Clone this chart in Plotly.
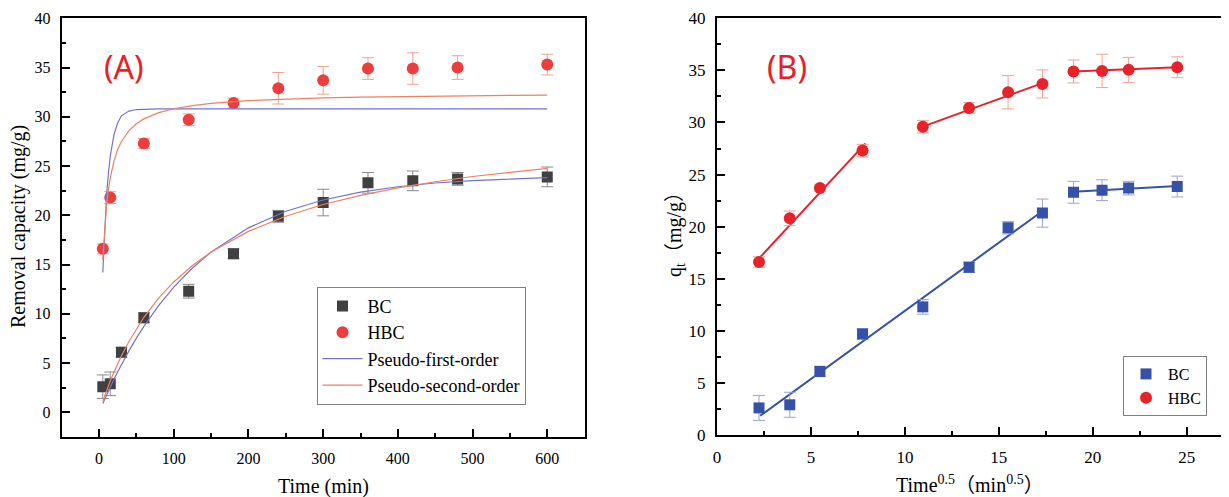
import plotly.graph_objects as go

# ---------------- data ----------------
# Panel A: kinetics (time in min)
t_bc = [5, 15, 30, 60, 120, 180, 240, 300, 360, 420, 480, 600]
q_bc = [2.6, 2.9, 6.1, 9.6, 12.3, 16.1, 19.9, 21.3, 23.3, 23.5, 23.7, 23.9]
e_bc = [1.2, 1.2, 0.5, 0.5, 0.7, 0.5, 0.6, 1.35, 1.05, 1.0, 0.65, 1.0]

t_hbc = [5, 15, 60, 120, 180, 240, 300, 360, 420, 480, 600]
q_hbc = [16.6, 21.8, 27.3, 29.7, 31.4, 32.9, 33.7, 34.9, 34.9, 35.0, 35.3]
e_hbc = [0.5, 0.6, 0.5, 0.6, 0.5, 1.6, 1.4, 1.1, 1.6, 1.2, 1.05]

# fitted curves
t_fit = [5, 7.5, 10, 12.5, 15, 20, 25, 30, 40, 50, 60, 80, 100, 125, 150,
         200, 250, 300, 350, 400, 450, 500, 550, 600]
bc_pfo = [0.89, 1.32, 1.74, 2.16, 2.57, 3.36, 4.12, 4.86, 6.24, 7.54, 8.73,
          10.87, 12.72, 14.65, 16.27, 18.73, 20.41, 21.56, 22.36, 22.90,
          23.28, 23.53, 23.71, 23.83]
bc_pso = [1.14, 1.68, 2.20, 2.70, 3.18, 4.09, 4.95, 5.75, 7.20, 8.50, 9.65,
          11.62, 13.24, 14.90, 16.27, 18.37, 19.91, 21.10, 22.03, 22.79,
          23.41, 23.94, 24.39, 24.77]
hbc_pfo = [14.2, 18.6, 21.9, 24.3, 26.0, 28.2, 29.4, 30.1, 30.58, 30.74,
           30.78, 30.8, 30.8, 30.8, 30.8, 30.8, 30.8, 30.8, 30.8, 30.8,
           30.8, 30.8, 30.8, 30.8]
hbc_pso = [15.5, 18.8, 21.0, 22.6, 23.8, 25.5, 26.7, 27.5, 28.6, 29.3, 29.79,
           30.42, 30.82, 31.14, 31.36, 31.64, 31.80, 31.92, 32.0, 32.06, 32.11,
           32.15, 32.18, 32.21]

# Panel B: intraparticle diffusion (time^0.5)
s_all = [2.236, 3.873, 5.477, 7.746, 10.954, 13.416, 15.492, 17.321,
         18.974, 20.494, 21.909, 24.495]
qb_bc = [2.6, 2.9, 6.1, 9.7, 12.3, 16.1, 19.9, 21.3, 23.3, 23.5, 23.7, 23.85]
eb_bc = [1.2, 1.2, 0.5, 0.5, 0.7, 0.5, 0.6, 1.35, 1.05, 1.0, 0.65, 1.0]
qb_hbc = [16.6, 20.8, 23.7, 27.3, 29.6, 31.4, 32.9, 33.7, 34.9, 34.95, 35.05, 35.3]
eb_hbc = [0.5, 0.7, 0.3, 0.6, 0.6, 0.5, 1.6, 1.35, 1.1, 1.6, 1.2, 1.0]

# linear segments (endpoints)
seg_hbc_x = [[2.24, 7.9], [10.95, 17.35], [18.97, 24.5]]
seg_hbc_y = [[16.95, 28.0], [29.6, 33.8], [34.9, 35.3]]
seg_bc_x = [[2.3, 17.4], [18.97, 24.5]]
seg_bc_y = [[1.85, 21.6], [23.35, 23.9]]

# ---------------- styling ----------------
OFF = 8                      # page body margin in the browser
W, H = 1229 - OFF, 497 - OFF


def fx(p):
    return (p - OFF) / W


def fy(p):
    return 1 - (p - OFF) / H


SERIF = "Liberation Serif, Times New Roman, serif"
SANS = "Noto Sans, sans-serif"
MIXED = SERIF + ", Noto Sans CJK SC"

C_BC_A = "#404040"
C_HBC_A = "#ee3d3d"
C_PFO = "#7373cf"
C_PSO = "#f08060"
C_BC_B = "#3651a8"
C_HBC_B = "#e8222a"

fig = go.Figure()

# ---- Panel A ----
fig.add_trace(go.Scatter(
    x=t_bc, y=q_bc, mode="markers", name="BC",
    marker=dict(symbol="square", size=11, color=C_BC_A),
    error_y=dict(type="data", array=e_bc, color="#8a8a8a", thickness=1, width=6),
    xaxis="x", yaxis="y", legend="legend"))
fig.add_trace(go.Scatter(
    x=t_hbc, y=q_hbc, mode="markers", name="HBC",
    marker=dict(symbol="circle", size=12, color=C_HBC_A),
    error_y=dict(type="data", array=e_hbc, color="#f2a290", thickness=1, width=6),
    xaxis="x", yaxis="y", legend="legend"))
fig.add_trace(go.Scatter(
    x=t_fit, y=bc_pfo, mode="lines", name="Pseudo-first-order",
    line=dict(color=C_PFO, width=1.2), legendgroup="pfo", showlegend=True,
    xaxis="x", yaxis="y", legend="legend"))
fig.add_trace(go.Scatter(
    x=t_fit, y=bc_pso, mode="lines", name="Pseudo-second-order",
    line=dict(color=C_PSO, width=1.2), legendgroup="pso", showlegend=True,
    xaxis="x", yaxis="y", legend="legend"))
fig.add_trace(go.Scatter(
    x=t_fit, y=hbc_pfo, mode="lines", name="Pseudo-first-order",
    line=dict(color=C_PFO, width=1.2), legendgroup="pfo", showlegend=False,
    xaxis="x", yaxis="y"))
fig.add_trace(go.Scatter(
    x=t_fit, y=hbc_pso, mode="lines", name="Pseudo-second-order",
    line=dict(color=C_PSO, width=1.2), legendgroup="pso", showlegend=False,
    xaxis="x", yaxis="y"))

# ---- Panel B ----
for xs, ys in zip(seg_hbc_x, seg_hbc_y):
    fig.add_trace(go.Scatter(x=xs, y=ys, mode="lines", showlegend=False,
                             line=dict(color=C_HBC_B, width=2),
                             xaxis="x2", yaxis="y2"))
for xs, ys in zip(seg_bc_x, seg_bc_y):
    fig.add_trace(go.Scatter(x=xs, y=ys, mode="lines", showlegend=False,
                             line=dict(color=C_BC_B, width=2),
                             xaxis="x2", yaxis="y2"))
fig.add_trace(go.Scatter(
    x=s_all, y=qb_bc, mode="markers", name="BC",
    marker=dict(symbol="square", size=11, color=C_BC_B),
    error_y=dict(type="data", array=eb_bc, color="#96a5d8", thickness=1, width=6),
    xaxis="x2", yaxis="y2", legend="legend2"))
fig.add_trace(go.Scatter(
    x=s_all, y=qb_hbc, mode="markers", name="HBC",
    marker=dict(symbol="circle", size=12, color=C_HBC_B),
    error_y=dict(type="data", array=eb_hbc, color="#f2a290", thickness=1, width=6),
    xaxis="x2", yaxis="y2", legend="legend2"))


def axis_common(size):
    return dict(showline=True, linecolor="black", linewidth=2,
                ticks="inside", ticklen=8, tickwidth=2, tickcolor="black",
                showgrid=False, zeroline=False,
                tickfont=dict(family=SERIF, size=size, color="black"),
                ticklabelstandoff=6)


MINOR = dict(ticks="inside", ticklen=4, tickwidth=2, tickcolor="black")

ax_x = axis_common(16)
ax_x.update(domain=[fx(61.7), fx(584.6)], anchor="y", range=[-50, 650],
            tickmode="linear", tick0=0, dtick=100, mirror=True,
            minor=dict(MINOR, dtick=50))
ax_y = axis_common(16)
ax_y.update(domain=[fy(437), fy(18.3)], anchor="x", range=[-2.5, 40],
            tickmode="linear", tick0=0, dtick=5, mirror=True,
            minor=dict(MINOR, dtick=2.5))
ax_x2 = axis_common(17)
ax_x2.update(domain=[fx(717), 1.0], anchor="y2", range=[0, 27.25],
             tickmode="linear", tick0=0, dtick=5, mirror=True,
             minor=dict(MINOR, dtick=2.5))
ax_y2 = axis_common(17)
ax_y2.update(domain=[fy(435), fy(18.3)], anchor="x2", range=[0, 40],
             tickmode="linear", tick0=0, dtick=5, mirror=False,
             minor=dict(MINOR, dtick=2.5))

fig.update_layout(
    width=W, height=H, margin=dict(l=0, r=0, t=0, b=0),
    template="none", plot_bgcolor="white", paper_bgcolor="white",
    xaxis=ax_x, yaxis=ax_y, xaxis2=ax_x2, yaxis2=ax_y2,
    legend=dict(x=fx(316.5), y=fy(286.7), xanchor="left", yanchor="top",
                bgcolor="white", bordercolor="#808080", borderwidth=1,
                font=dict(family=SERIF, size=18, color="black"),
                tracegroupgap=0, itemwidth=40),
    legend2=dict(x=fx(1123), y=fy(356), xanchor="left", yanchor="top",
                 bgcolor="white", bordercolor="#808080", borderwidth=1,
                 font=dict(family=SERIF, size=16, color="black"),
                 tracegroupgap=0, itemwidth=34),
    showlegend=True,
)

ann = [
    dict(text="(A)", x=fx(124), y=fy(66), font=dict(family=SANS, size=32, color="#ee1c24")),
    dict(text="(B)", x=fx(787), y=fy(66), font=dict(family=SANS, size=32, color="#ee1c24")),
    dict(text="Time (min)", x=fx(323), y=fy(486), font=dict(family=SERIF, size=20, color="black")),
    dict(text="Removal capacity (mg/g)", x=fx(18), y=fy(227), textangle=-90,
         font=dict(family=SERIF, size=20, color="black")),
    dict(text="Time<sup>0.5</sup>（min<sup>0.5</sup>）", x=fx(970), y=fy(484),
         font=dict(family=MIXED, size=20, color="black")),
    dict(text="q<sub>t</sub>（mg/g）", x=fx(675), y=fy(230), textangle=-90,
         font=dict(family=MIXED, size=20, color="black")),
]
for a in ann:
    a.update(xref="paper", yref="paper", showarrow=False, xanchor="center", yanchor="middle")
fig.update_layout(annotations=ann)

fig.write_html("out.html")
